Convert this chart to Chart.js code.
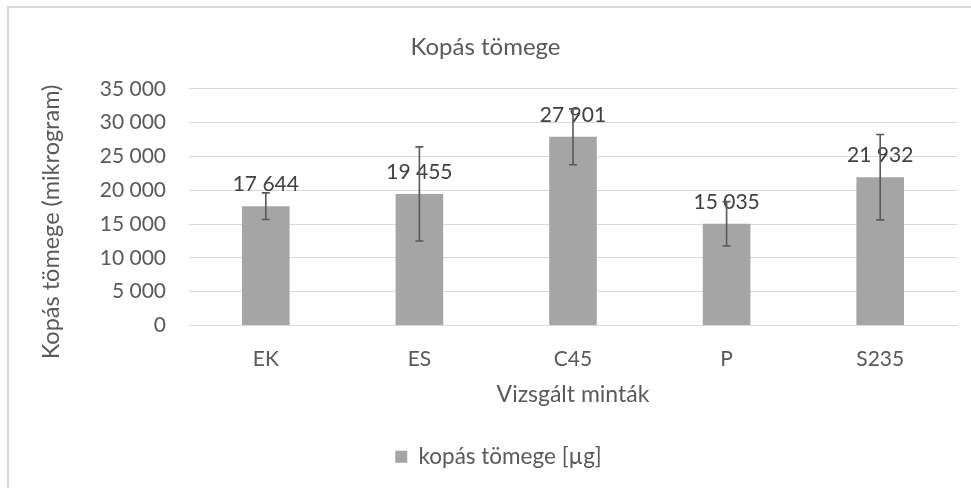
<!DOCTYPE html>
<html>
<head>
<meta charset="utf-8">
<script src="https://cdn.jsdelivr.net/npm/chart.js@4/dist/chart.umd.min.js"></script>
<style>
  html, body { margin: 0; padding: 0; background: #ffffff; }
  #wrap { width: 971px; height: 488px; position: relative; }
</style>
</head>
<body>
<div id="wrap"><canvas id="c" width="971" height="488"></canvas></div>
<script>
const categories = ["EK", "ES", "C45", "P", "S235"];
const values = [17644, 19455, 27901, 15035, 21932];
const errors = [1970, 6960, 4130, 3280, 6320];
const yTicks = [0, 5000, 10000, 15000, 20000, 25000, 30000, 35000];
const seriesName = "kopás tömege [µg]";
const chartTitle = "Kopás tömege";
const xTitle = "Vizsgált minták";
const yTitle = "Kopás tömege (mikrogram)";

const FONT = "Lato";
function fmt(n) { return String(n).replace(/\B(?=(\d{3})+(?!\d))/g, " "); }

const borderPlugin = {
  id: "outerBorder",
  beforeDraw(chart) {
    const ctx = chart.ctx;
    ctx.save();
    ctx.fillStyle = "#ffffff";
    ctx.fillRect(0, 0, chart.width, chart.height);
    ctx.strokeStyle = "#d9d9d9";
    ctx.lineWidth = 2;
    ctx.strokeRect(8, 7, chart.width + 20, chart.height + 20);
    ctx.restore();
  }
};

const legendShift = {
  id: "legendShift",
  afterLayout(chart) {
    if (chart.legend) {
      chart.legend.left += 13;
      chart.legend.right += 13;
    }
  }
};

const yTitlePlugin = {
  id: "yTitle",
  afterDraw(chart) {
    const ctx = chart.ctx;
    ctx.save();
    ctx.translate(51, 222);
    ctx.rotate(-Math.PI / 2);
    ctx.font = "23.5px " + FONT;
    ctx.fillStyle = "#595959";
    ctx.textAlign = "center";
    ctx.textBaseline = "middle";
    ctx.fillText(yTitle, 0, 0);
    ctx.restore();
  }
};

const labelsAndErrors = {
  id: "labelsAndErrors",
  afterDatasetsDraw(chart) {
    const ctx = chart.ctx;
    const meta = chart.getDatasetMeta(0);
    const ys = chart.scales.y;
    ctx.save();
    ctx.font = "21px " + FONT;
    ctx.fillStyle = "#404040";
    ctx.textAlign = "center";
    ctx.textBaseline = "alphabetic";
    meta.data.forEach((bar, i) => {
      ctx.fillText(fmt(values[i]), bar.x, bar.y - 15);
    });
    ctx.strokeStyle = "#595959";
    ctx.lineWidth = 1.6;
    meta.data.forEach((bar, i) => {
      const yHi = ys.getPixelForValue(values[i] + errors[i]);
      const yLo = ys.getPixelForValue(values[i] - errors[i]);
      const x = bar.x;
      ctx.beginPath();
      ctx.moveTo(x, yHi); ctx.lineTo(x, yLo);
      ctx.moveTo(x - 4, yHi); ctx.lineTo(x + 4, yHi);
      ctx.moveTo(x - 4, yLo); ctx.lineTo(x + 4, yLo);
      ctx.stroke();
    });
    ctx.restore();
  }
};

new Chart(document.getElementById("c"), {
  type: "bar",
  data: {
    labels: categories,
    datasets: [{
      label: seriesName,
      data: values,
      backgroundColor: "#a5a5a5",
      borderColor: "#a5a5a5",
      borderWidth: 0,
      barPercentage: 0.31,
      categoryPercentage: 1.0
    }]
  },
  options: {
    responsive: false,
    animation: false,
    layout: { padding: { left: 14, right: 14, top: 0, bottom: 10 } },
    plugins: {
      title: {
        display: true,
        text: chartTitle,
        color: "#595959",
        font: { family: FONT, size: 24, weight: "normal" },
        padding: { top: 33, bottom: 27 }
      },
      legend: {
        position: "bottom",
        labels: {
          color: "#595959",
          font: { family: FONT, size: 22.5 },
          boxWidth: 12,
          boxHeight: 12,
          padding: 10
        }
      },
      tooltip: { enabled: false }
    },
    scales: {
      x: {
        grid: { display: false, drawTicks: false },
        border: { display: true, color: "#d9d9d9", width: 1 },
        ticks: { color: "#595959", font: { family: FONT, size: 21 }, padding: 21 },
        title: {
          display: true, text: xTitle, color: "#595959",
          font: { family: FONT, size: 23 },
          padding: { top: 4, bottom: 27.5 }
        },
        afterFit(scale) { scale.height = 110; }
      },
      y: {
        min: 0, max: 35000,
        afterBuildTicks(scale) { scale.ticks = yTicks.map(v => ({ value: v })); },
        grid: { color: "#d9d9d9", lineWidth: 1, drawTicks: false },
        border: { display: false },
        ticks: {
          color: "#595959",
          font: { family: FONT, size: 21 },
          padding: 23,
          callback: v => fmt(v)
        },
        afterFit(scale) { scale.width = 175; }
      }
    }
  },
  plugins: [borderPlugin, legendShift, labelsAndErrors, yTitlePlugin]
});
</script>
</body>
</html>
